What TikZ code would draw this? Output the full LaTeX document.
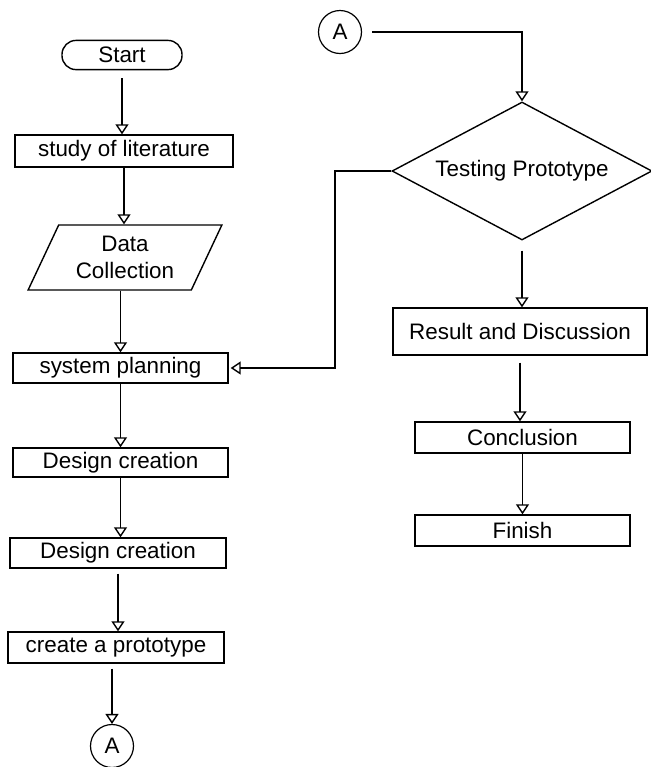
\documentclass[tikz,border=0pt]{standalone}
\usepackage{fontspec}
\setmainfont{Liberation Sans}
\usetikzlibrary{shapes.geometric,arrows.meta}

\tikzset{
  proc/.style={draw, rectangle, inner sep=1pt, line width=0.7pt},
  term/.style={draw, rectangle, rounded corners=7pt, line width=0.7pt},
  conn/.style={draw, circle, minimum size=21.5pt, inner sep=0pt, line width=0.6pt},
  arr/.style={-{Triangle[open,length=5pt,width=6.5pt]}, line width=0.7pt}
}

\begin{document}
\begin{tikzpicture}[x=0.5pt, y=-0.5pt, font=\fontsize{11.2}{13.5}\selectfont]
                \useasboundingbox (0,0) rectangle (651,767);
                % 左の列
                \node (start) at (122,55) [term, minimum width=60pt, minimum height=14pt] {Start};
                \node (lit) at (124,151) [proc, minimum width=109pt, minimum height=16pt] {study of literature};
                \node (data) at (125,257.5) [draw, trapezium, trapezium stretches=true, trapezium left angle=62, trapezium right angle=118,
                    minimum width=97pt, minimum height=32.5pt, inner sep=0pt, line width=0.7pt, align=center] {Data\\Collection};
                \node (sys) at (120.5,368) [proc, minimum width=107.5pt, minimum height=15pt] {system planning};
                \node (des1) at (120.5,462.5) [proc, minimum width=107.5pt, minimum height=14.5pt] {Design creation};
                \node (des2) at (118,553) [proc, minimum width=108pt, minimum height=15pt] {Design creation};
                \node (proto) at (116,647.5) [proc, minimum width=108pt, minimum height=15.5pt] {create a prototype};
                \node (abot) at (112,746) [conn] {A};
                % 右の列
                \node (atop) at (340,32) [conn] {A};
                \node (test) at (522,171) [draw, diamond, aspect=1.88, minimum width=130pt, minimum height=69pt,
                    inner sep=0pt, line width=0.7pt] {Testing Prototype};
                \node (res) at (520,331.5) [proc, minimum width=127pt, minimum height=23.5pt] {Result and Discussion};
                \node (conc) at (522.5,437.5) [proc, minimum width=107.5pt, minimum height=15.5pt] {Conclusion};
                \node (fin) at (522.5,530.5) [proc, minimum width=107.5pt, minimum height=15.5pt] {Finish};
                \coordinate (bend) at (335,368); % 戻りの線の角
                % 矢印
                \draw[arr, shorten <=4pt] (start.south) -- (start.south |- lit.north);
                \draw[arr] (lit.south) -- (lit.south |- data.north);
                \draw[arr] (sys.north |- data.south) -- (sys.north);
                \draw[arr] (sys.south) -- (sys.south |- des1.north);
                \draw[arr] (des1.south) -- (des1.south |- des2.north);
                \draw[arr, shorten <=2.5pt] (des2.south) -- (des2.south |- proto.north);
                \draw[arr, shorten <=2.5pt] (abot.north |- proto.south) -- (abot.north);
                \draw[arr, shorten <=5pt] (atop.east) -| (test.north);
                \draw[arr, shorten >=1pt] (test.west) -| (bend) -- (sys.east);
                \draw[arr, shorten <=5pt] (test.south) -- (test.south |- res.north);
                \draw[arr, shorten <=3.5pt] (res.south) -- (res.south |- conc.north);
                \draw[arr] (conc.south) -- (fin.north);
            \end{tikzpicture}
\end{document}
